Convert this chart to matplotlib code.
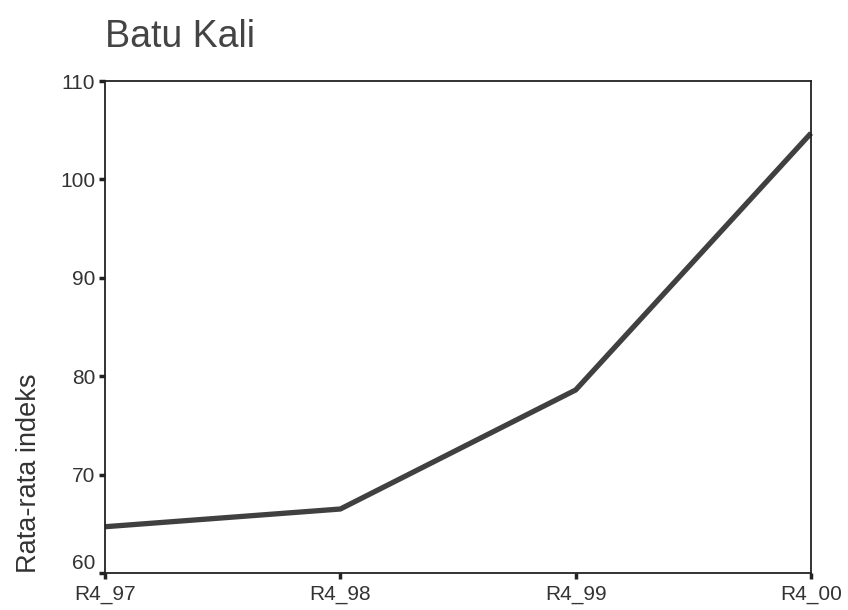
import matplotlib.pyplot as plt

# values
periods = ['R4_97', 'R4_98', 'R4_99', 'R4_00']
avg_index = [64.7, 66.5, 78.6, 104.7]
y_ticks = [60, 70, 80, 90, 100, 110]

plt.rcParams['font.family'] = ['Liberation Sans', 'DejaVu Sans']

fig = plt.figure(figsize=(8.48, 6.10), dpi=100)
ax = fig.add_axes([0.1238, 0.0607, 0.9564 - 0.1238, 0.8672 - 0.0607])

x = range(len(periods))
ax.plot(x, avg_index, color='#404040', linewidth=3.8, solid_capstyle='butt', clip_on=False)

ax.set_xlim(0, len(periods) - 1)
ax.set_ylim(60, 110)
ax.set_xticks(list(x))
ax.set_xticklabels(periods)
ax.set_yticks(y_ticks)

for s in ax.spines.values():
    s.set_color('#222222')
    s.set_linewidth(1.3)

ax.tick_params(axis='both', direction='out', length=4, width=2.5, color='#222222',
               labelsize=15, labelcolor='#333333')
ax.tick_params(axis='x', pad=5)
ax.tick_params(axis='y', pad=3)

# lowest y label sits above its tick so it clears the x labels
fig.canvas.draw()
ax.get_yticklabels()[0].set_va('bottom')

ax.set_ylabel('Rata-rata indeks', fontsize=19.5, color='#333333', labelpad=13, loc='bottom')

fig.text(0.124, 0.94, 'Batu Kali', fontsize=27, color='#444444', va='center', ha='left')

fig.savefig('out.png', dpi=100, facecolor='white')
